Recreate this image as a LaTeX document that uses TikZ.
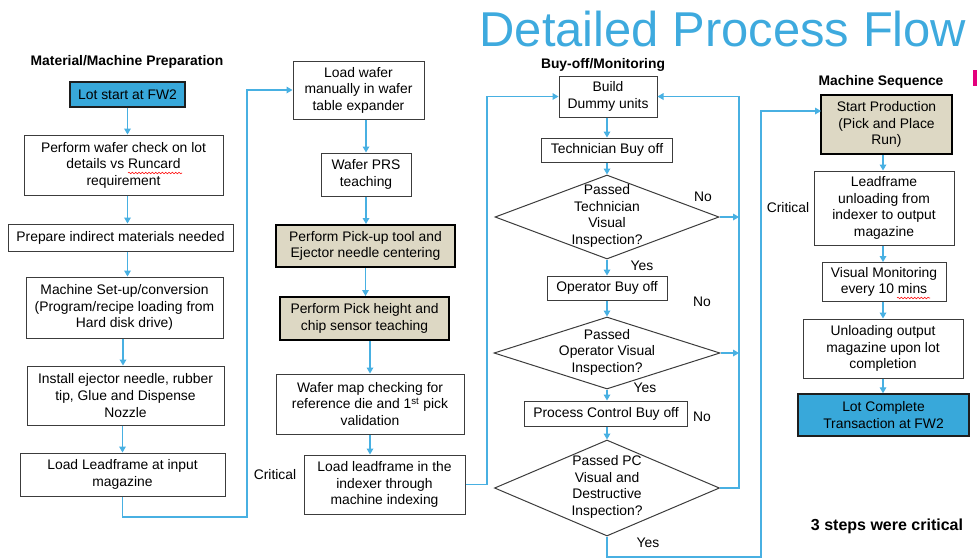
\documentclass[tikz,border=0pt]{standalone}
\usepackage{fontspec}
\setmainfont{Liberation Sans}
\usetikzlibrary{shapes.geometric,arrows.meta,decorations.pathmorphing}
\definecolor{conn}{RGB}{72,176,226}
\definecolor{titleblue}{RGB}{62,170,222}
\definecolor{bluefill}{RGB}{56,168,218}
\definecolor{beige}{RGB}{221,216,196}
\definecolor{boxline}{RGB}{60,60,60}
\definecolor{darkline}{RGB}{30,30,30}
\definecolor{pinkmark}{RGB}{228,0,124}
\newcommand\bodyfont{\fontsize{10.4}{12.4}\selectfont}
\tikzset{
  sz/.style 2 args={minimum width=#1*0.75pt, minimum height=#2*0.75pt},
  box/.style={draw=boxline, line width=0.75pt, fill=white, align=center, inner sep=0pt, font=\bodyfont},
  hbox/.style={box, fill=beige, draw=black, line width=1.5pt},
  bbox/.style={box, fill=bluefill, draw=darkline, line width=1.1pt},
  dia/.style={draw=boxline, diamond, line width=0.75pt, inner sep=0pt, fill=white},
  arr/.style={draw=conn, line width=0.9pt, -{Triangle[length=4.5pt,width=5pt]}},
  cline/.style={draw=conn, line width=0.9pt},
  lbl/.style={font=\bodyfont, inner sep=0pt, align=center},
  head/.style={font=\bodyfont\bfseries, inner sep=0pt, anchor=base},
  spell/.style={draw=red, line width=0.4pt, decorate, decoration={snake, amplitude=0.6pt, segment length=2.5pt}}
}
\begin{document}
\begin{tikzpicture}[x=0.75pt,y=-0.75pt]
\useasboundingbox (0,0) rectangle (977,558);

% title and headings
\node[inner sep=0pt, anchor=base, text=titleblue, font=\fontsize{36.7}{40}\selectfont] (title) at (723,46.5) {Detailed Process Flow};
\node[head] (h1) at (127,65) {Material/Machine Preparation};
\node[head] (h2) at (603,68) {Buy-off/Monitoring};
\node[head] (h4) at (881,85) {Machine Sequence};
\node[inner sep=0pt, anchor=base, font=\fontsize{12}{14}\selectfont\bfseries] (crit3) at (887,530) {3 steps were critical};
\node[fill=pinkmark, inner sep=0pt, minimum width=4*0.75pt, minimum height=16*0.75pt, anchor=north west] (pink) at (973,70) {};

% column 1
\node[bbox, sz={115}{25}] (lot) at (127.5,94.5) {Lot start at FW2};
\node[box, sz={199}{60}] (wchk) at (123.5,165) {Perform wafer check on lot\\details vs Runcard\\requirement};
\node[box, sz={225}{27}] (prep) at (120.5,237.5) {Prepare indirect materials needed};
\node[box, sz={197}{61}] (setup) at (124.5,307.5) {Machine Set-up/conversion\\(Program/recipe loading from\\Hard disk drive)};
\node[box, sz={197}{59}] (inst) at (125.5,395.5) {Install ejector needle, rubber\\tip, Glue and Dispense\\Nozzle};
\node[box, sz={205}{43}] (loadlf) at (122.5,474.5) {Load Leadframe at input\\magazine};

% column 2
\node[box, sz={131}{58}] (lw) at (358.5,90) {Load wafer\\manually in wafer\\table expander};
\node[box, sz={90}{43}] (prs) at (366,174.5) {Wafer PRS\\teaching};
\node[hbox, sz={179}{42}] (pu) at (365.5,246) {Perform Pick-up tool and\\Ejector needle centering};
\node[hbox, sz={169}{43}] (ph) at (364.5,318.5) {Perform Pick height and\\chip sensor teaching};
\node[box, sz={188}{60}] (wm) at (370,404) {Wafer map checking for\\reference die and 1\textsuperscript{st} pick\\validation};
\node[box, sz={161}{59}] (ll) at (384.5,484.5) {Load leadframe in the\\indexer through\\machine indexing};
\node[lbl] (crit1) at (275,475) {Critical};

% column 3
\node[box, sz={98}{41}] (bd) at (608,96.5) {Build\\Dummy units};
\node[box, sz={131}{24}] (tb) at (607,150) {Technician Buy off};
\node[dia, sz={224}{84}] (d1) at (607,217) {};
\node[lbl] (d1t) at (607,216) {Passed\\Technician\\Visual\\Inspection?};
\node[box, sz={120}{24}] (ob) at (607,288) {Operator Buy off};
\node[dia, sz={226}{72}] (d2) at (607,353) {};
\node[lbl] (d2t) at (607,352) {Passed\\Operator Visual\\Inspection?};
\node[box, sz={163}{25}] (pc) at (606,413.5) {Process Control Buy off};
\node[dia, sz={225}{96}] (d3) at (607,488) {};
\node[lbl] (d3t) at (607,487) {Passed PC\\Visual and\\Destructive\\Inspection?};
\node[lbl] (no1) at (703,197) {No};
\node[lbl] (yes1) at (642,266) {Yes};
\node[lbl] (no2) at (702,302) {No};
\node[lbl] (yes2) at (645,388) {Yes};
\node[lbl] (no3) at (702,417) {No};
\node[lbl] (yes3) at (648,543) {Yes};
\coordinate (rjoin1) at (739,217);
\coordinate (rjoin2) at (739,353);

% column 4
\node[hbox, sz={131}{59}] (sp) at (886.5,124.5) {Start Production\\(Pick and Place\\Run)};
\node[box, sz={140}{74}] (lu) at (884,208) {Leadframe\\unloading from\\indexer to output\\magazine};
\node[box, sz={124}{39}] (vm) at (884,282) {Visual Monitoring\\every 10 mins};
\node[box, sz={160}{59}] (ul) at (883,348.5) {Unloading output\\magazine upon lot\\completion};
\node[bbox, sz={171}{42}] (lc) at (883.5,415) {Lot Complete\\Transaction at FW2};
\node[lbl] (crit2) at (788,208) {Critical};
\coordinate (spin) at (821,111);

% spell-check marks
\draw[spell] (128,173) -- (182,173);
\draw[spell] (897,298) -- (930,298);

% connectors column 1
\draw[arr] (lot.south) -- (lot.south |- wchk.north);
\draw[arr] (lot.south |- wchk.south) -- (lot.south |- prep.north);
\draw[arr] (lot.south |- prep.south) -- (lot.south |- setup.north);
\draw[arr] (123,0 |- setup.south) -- (123,0 |- inst.north);
\draw[arr] (loadlf.north |- inst.south) -- (loadlf.north);
\draw[arr] (loadlf.south) |- (247,517) |- (lw.west);

% connectors column 2
\draw[arr] (prs.north |- lw.south) -- (prs.north);
\draw[arr] (prs.south) -- (prs.south |- pu.north);
\draw[arr] (pu.south) -- (pu.south |- ph.north);
\draw[arr] (wm.north |- ph.south) -- (wm.north);
\draw[arr] (wm.south) -- (wm.south |- ll.north);
\draw[arr] (ll.east) -| (487,96.5) -- (bd.west);

% connectors column 3
\draw[arr] (d1.north |- bd.south) -- (d1.north |- tb.north);
\draw[arr] (d1.north |- tb.south) -- (d1.north);
\draw[arr] (d1.south) -- (d1.south |- ob.north);
\draw[arr] (d2.north |- ob.south) -- (d2.north);
\draw[arr] (d2.south) -- (d2.south |- pc.north);
\draw[arr] (d3.north |- pc.south) -- (d3.north);
\draw[arr] (d1.east) -- (rjoin1);
\draw[arr] (d2.east) -- (rjoin2);
\draw[arr] (d3.east) -| (739,96.5) -- (bd.east);
\draw[arr] (d3.south) |- (761,557) |- (spin);

% connectors column 4
\draw[arr] (883,0 |- sp.south) -- (883,0 |- lu.north);
\draw[arr] (883,0 |- lu.south) -- (883,0 |- vm.north);
\draw[arr] (883,0 |- vm.south) -- (883,0 |- ul.north);
\draw[arr] (883,0 |- ul.south) -- (883,0 |- lc.north);
\end{tikzpicture}
\end{document}
